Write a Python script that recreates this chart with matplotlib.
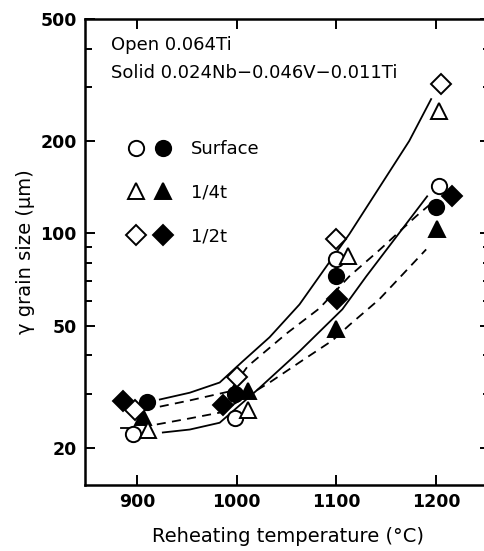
import matplotlib
matplotlib.use('agg')
from matplotlib import pyplot as plt
from matplotlib.legend_handler import HandlerTuple
from matplotlib.ticker import FixedLocator, NullFormatter, NullLocator

# measured grain sizes (x slightly offset in the original so symbols don't overlap)
surf_open_t = [896, 998, 1100, 1203]
surf_open = [22.1, 25.0, 82.4, 143]
surf_fill_t = [910, 998, 1100, 1200]
surf_fill = [28.1, 29.8, 72.5, 122]
q_open_t = [911, 1011, 1112, 1203]
q_open = [22.9, 26.6, 84.2, 250]
q_fill_t = [906, 1011, 1100, 1201]
q_fill = [25.1, 30.5, 48.6, 103]
h_open_t = [898, 1000, 1100, 1205]
h_open = [26.6, 34.1, 95.6, 306]
h_fill_t = [886, 986, 1101, 1216]
h_fill = [28.3, 27.6, 60.9, 132]

# hand drawn band curves
up_solid_t = [923, 953, 983, 1006, 1033, 1063, 1093, 1113, 1143, 1173, 1195]
up_solid = [28.7, 30.2, 32.6, 38.2, 45.8, 58.6, 80.5, 99.4, 141, 200, 274]
up_dash_t = [923, 953, 993, 1011, 1050, 1083, 1113, 1143, 1180, 1193]
up_dash = [27.2, 28.5, 30.5, 36.8, 47.1, 56.9, 72.4, 88.1, 113.7, 123.5]
lo_solid_t = [926, 953, 983, 1021, 1063, 1106, 1130, 1160, 1191]
lo_solid = [22.4, 22.9, 24.1, 30.9, 41.2, 56.5, 72.4, 97.3, 132]
lo_dash_t = [920, 953, 983, 1033, 1066, 1096, 1113, 1143, 1190]
lo_dash = [23.8, 24.9, 26.0, 32.6, 38.5, 44.7, 50.2, 60.9, 88.6]
lo_dash_stub_t = [884, 891]
lo_dash_stub = [23.2, 23.2]

xticks = [900, 1000, 1100, 1200]
yticks = [20, 50, 100, 200, 500]
yminor = [30, 40, 60, 70, 80, 90, 300, 400]

plt.rcParams['font.family'] = 'DejaVu Sans'

fig = plt.figure(figsize=(4.85, 5.51), dpi=100)
ax = fig.add_axes([0.1753, 0.1198, 0.835, 0.8457])

lw = 1.3
ax.plot(up_solid_t, up_solid, color='k', lw=lw, zorder=2)
ax.plot(lo_solid_t, lo_solid, color='k', lw=lw, zorder=2)
ax.plot(up_dash_t, up_dash, color='k', lw=lw, dashes=(5, 3.5), zorder=2)
ax.plot(lo_dash_t, lo_dash, color='k', lw=lw, dashes=(5, 3.5), zorder=2)
ax.plot(lo_dash_stub_t, lo_dash_stub, color='k', lw=lw, zorder=2)

ms = 11
mew = 1.4
kw_f = dict(ls='none', color='k', mec='k', mew=mew, zorder=3)
kw_o = dict(ls='none', mfc='white', mec='k', mew=mew, zorder=4)
c_f, = ax.plot(surf_fill_t, surf_fill, 'o', ms=ms, **kw_f)
t_f, = ax.plot(q_fill_t, q_fill, '^', ms=ms, **kw_f)
d_f, = ax.plot(h_fill_t, h_fill, 'D', ms=ms - 1, **kw_f)
c_o, = ax.plot(surf_open_t, surf_open, 'o', ms=ms, **kw_o)
t_o, = ax.plot(q_open_t, q_open, '^', ms=ms, **kw_o)
d_o, = ax.plot(h_open_t, h_open, 'D', ms=ms - 1, **kw_o)

ax.set_yscale('log')
ax.set_xlim(848, 1254)
ax.set_ylim(15.1, 500)
ax.set_xticks(xticks)
ax.xaxis.set_minor_locator(NullLocator())
ax.yaxis.set_major_locator(FixedLocator(yticks))
ax.yaxis.set_minor_locator(FixedLocator(yminor))
ax.yaxis.set_minor_formatter(NullFormatter())
ax.set_yticklabels([str(v) for v in yticks])
ax.tick_params(which='both', direction='in', top=True, right=True,
               width=1.4, labelsize=12.5, pad=6)
ax.tick_params(which='major', length=7)
ax.tick_params(which='minor', length=5)
for lab in ax.get_xticklabels() + ax.get_yticklabels():
    lab.set_fontweight('bold')
for s in ax.spines.values():
    s.set_linewidth(1.8)

ax.set_xlabel('Reheating temperature (°C)', fontsize=14, labelpad=11)
ax.set_ylabel('γ grain size (μm)', fontsize=14, labelpad=4)

ax.text(0.065, 0.944, 'Open 0.064Ti', transform=ax.transAxes,
        fontsize=13, va='center', ha='left')
ax.text(0.065, 0.884, 'Solid 0.024Nb\u22120.046V\u22120.011Ti', transform=ax.transAxes,
        fontsize=13, va='center', ha='left')

ax.legend([(c_o, c_f), (t_o, t_f), (d_o, d_f)], ['Surface', '1/4t', '1/2t'],
          handler_map={tuple: HandlerTuple(ndivide=None, pad=0.45)},
          loc='upper left', bbox_to_anchor=(0.085, 0.756), frameon=False,
          fontsize=13, handlelength=2.5, handletextpad=1.05, labelspacing=1.42,
          borderaxespad=0)

plt.savefig('out.png', dpi=100)
